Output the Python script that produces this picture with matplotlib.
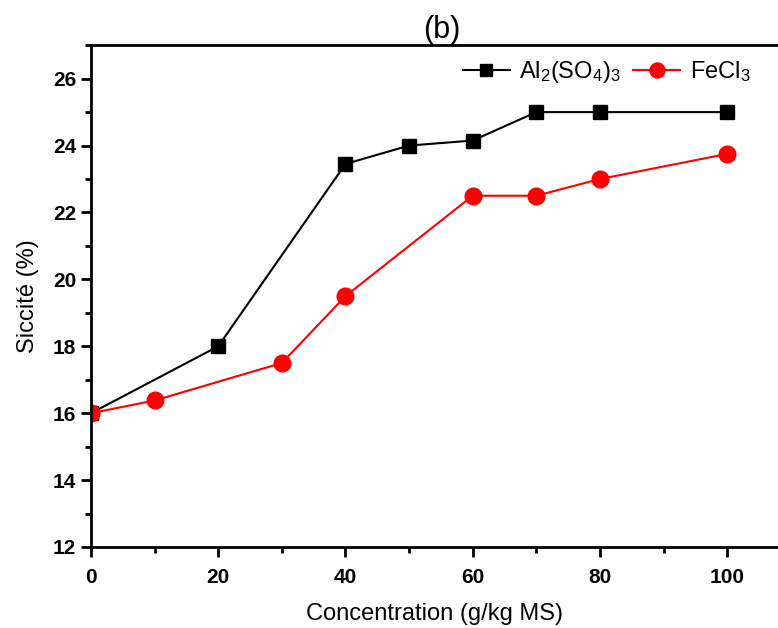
import matplotlib.pyplot as plt
from matplotlib.ticker import MultipleLocator

plt.rcParams['font.family'] = ['Liberation Sans', 'DejaVu Sans']
plt.rcParams['mathtext.fontset'] = 'custom'
plt.rcParams['mathtext.rm'] = 'Liberation Sans'
plt.rcParams['mathtext.default'] = 'regular'

# data
al_x = [0, 20, 40, 50, 60, 70, 80, 100]
al_y = [16.0, 18.0, 23.45, 24.0, 24.15, 25.0, 25.0, 25.0]
fe_x = [0, 10, 30, 40, 60, 70, 80, 100]
fe_y = [16.0, 16.38, 17.5, 19.5, 22.5, 22.5, 23.0, 23.75]

fig = plt.figure(figsize=(7.78, 6.28), dpi=100)
ax = fig.add_axes([0.117, 0.129, 0.883, 0.799])

ax.plot(al_x, al_y, color='black', marker='s', markersize=10, linewidth=1.5,
        label=r'Al$_2$(SO$_4$)$_3$')
ax.plot(fe_x, fe_y, color='red', marker='o', markersize=12, linewidth=1.5,
        label=r'FeCl$_3$')

ax.set_xlim(0, 108)
ax.set_ylim(12, 27)
ax.xaxis.set_major_locator(MultipleLocator(20))
ax.xaxis.set_minor_locator(MultipleLocator(10))
ax.yaxis.set_major_locator(MultipleLocator(2))
ax.yaxis.set_minor_locator(MultipleLocator(1))

for s in ['left', 'bottom', 'top']:
    ax.spines[s].set_linewidth(2)
ax.spines['right'].set_visible(False)

ax.tick_params(axis='both', which='major', direction='out', length=7, width=2,
               labelsize=15)
ax.tick_params(axis='x', which='major', pad=8)
ax.tick_params(axis='both', which='minor', direction='out', length=4, width=2)
for lbl in ax.get_xticklabels() + ax.get_yticklabels():
    lbl.set_fontweight('bold')

ax.set_xlabel('Concentration (g/kg MS)', fontsize=17, labelpad=12)
ax.set_ylabel('Siccité (%)', fontsize=17, labelpad=10)
ax.set_title('(b)', fontsize=22, pad=0, x=0.51)

ax.legend(loc='upper right', bbox_to_anchor=(0.98, 1.0), ncol=2,
          frameon=False, fontsize=17, handlelength=2.0, handletextpad=0.4,
          columnspacing=0.5, borderaxespad=0.2, markerscale=0.9)

fig.savefig('out.png', dpi=100)
